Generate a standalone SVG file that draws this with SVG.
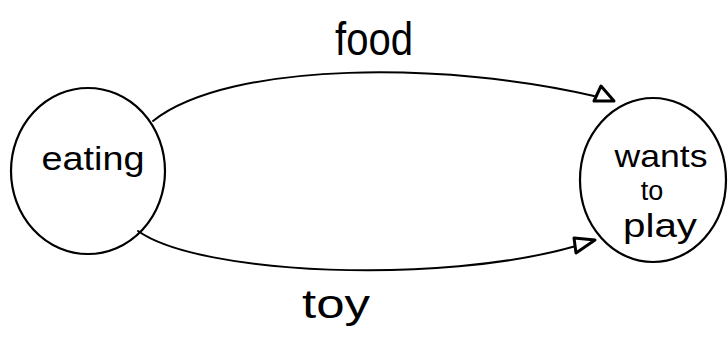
<svg xmlns="http://www.w3.org/2000/svg" width="728" height="337" viewBox="0 0 728 337">
  <style>
    .node { fill: none; stroke: #000; stroke-width: 2.2; }
    .edge { fill: none; stroke: #000; stroke-width: 2; stroke-linecap: round; }
    .head { fill: #fff; stroke: #000; stroke-width: 3; stroke-linejoin: round; }
    .lbl { font-family: "Liberation Sans", "DejaVu Sans", sans-serif; fill: #000; }
  </style>
  <rect width="728" height="337" fill="#fff"/>
  <g id="connectors">
    <g id="edge-food">
      <path class="edge" d="M153,121 C230,60 450,62 594,96"/>
      <polygon class="head" points="594,101 601,86 614,101"/>
      <text class="lbl" x="374" y="55" font-size="46" text-anchor="middle" textLength="78" lengthAdjust="spacingAndGlyphs">food</text>
    </g>
    <g id="edge-toy">
      <path class="edge" d="M138,231 C200,275 440,285 576,246"/>
      <polygon class="head" points="574,238 595,240 576,253"/>
      <text class="lbl" x="336" y="318" font-size="40" text-anchor="middle" textLength="68" lengthAdjust="spacingAndGlyphs">toy</text>
    </g>
  </g>
  <g id="eating">
    <ellipse class="node" cx="88" cy="171" rx="77" ry="83"/>
    <text class="lbl" x="93" y="170" font-size="33" text-anchor="middle" textLength="103" lengthAdjust="spacingAndGlyphs">eating</text>
  </g>
  <g id="wants-to-play">
    <ellipse class="node" cx="653" cy="180" rx="73" ry="82"/>
    <text class="lbl" x="661" y="167" font-size="32" text-anchor="middle" textLength="93" lengthAdjust="spacingAndGlyphs">wants</text>
    <text class="lbl" x="652" y="200" font-size="27" text-anchor="middle">to</text>
    <text class="lbl" x="660" y="237" font-size="34" text-anchor="middle" textLength="74" lengthAdjust="spacingAndGlyphs">play</text>
  </g>
</svg>
